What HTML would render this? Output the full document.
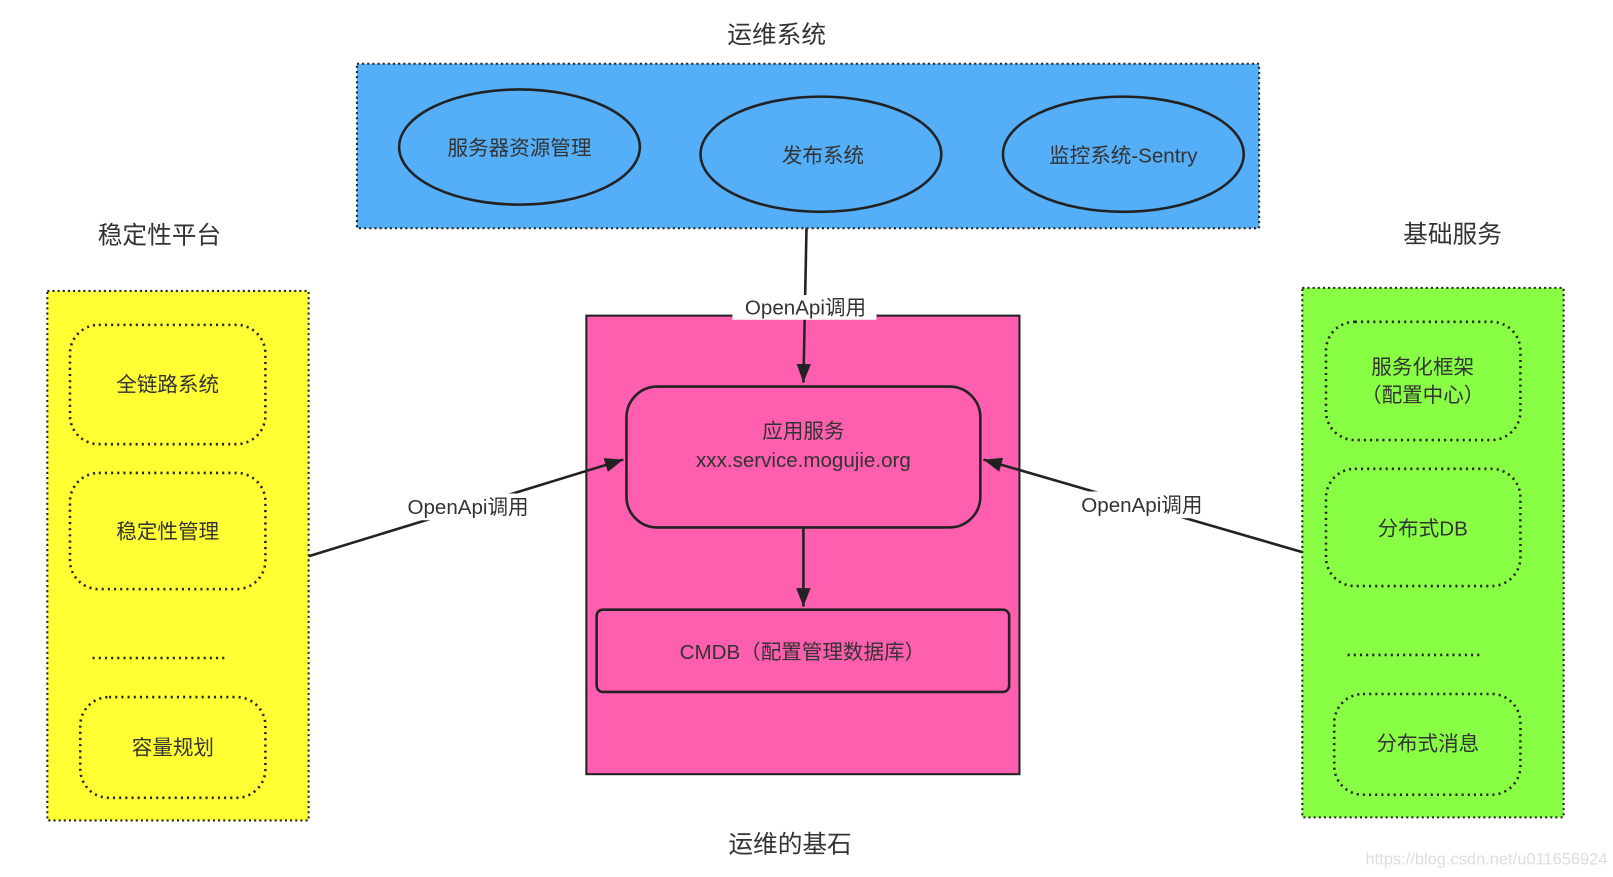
<!DOCTYPE html>
<html><head><meta charset="utf-8"><style>
html,body{margin:0;padding:0;background:#fff;width:1613px;height:877px;overflow:hidden}
svg{display:block}
text{font-family:"Liberation Sans","Noto Sans CJK SC",sans-serif;fill:#333}
</style></head><body>
<svg width="1613" height="877" viewBox="0 0 1568 853" preserveAspectRatio="none">
<defs><marker id="ar" markerWidth="10" markerHeight="10" refX="9" refY="5" orient="auto" markerUnits="userSpaceOnUse"><path d="M0,0 L10,5 L0,10 z" fill="#222"/></marker>
<marker id="ar2" markerWidth="20" markerHeight="20" refX="18" refY="7" orient="auto" markerUnits="userSpaceOnUse"><path d="M0,0 L18,7 L0,14 z" fill="#222"/></marker></defs>
<text x="755" y="42" font-size="24" text-anchor="middle">运维系统</text>
<rect x="347" y="62" width="877" height="160" fill="#55aef8" stroke="#222" stroke-width="2" stroke-dasharray="2,3"/>
<g fill="#55aef8" stroke="#222" stroke-width="2.5">
<ellipse cx="505" cy="143" rx="117" ry="56"/><ellipse cx="798" cy="150" rx="117" ry="56"/><ellipse cx="1092" cy="150" rx="117" ry="56"/></g>
<g font-size="20" text-anchor="middle"><text x="505" y="151">服务器资源管理</text><text x="800" y="158">发布系统</text><text x="1092" y="158">监控系统-Sentry</text></g>
<text x="155" y="237" font-size="24" text-anchor="middle">稳定性平台</text>
<text x="1412" y="236" font-size="24" text-anchor="middle">基础服务</text>
<rect x="46" y="283" width="254" height="515" fill="#ffff33" stroke="#222" stroke-width="2" stroke-dasharray="2,3"/>
<g fill="none" stroke="#222" stroke-width="2.5" stroke-dasharray="2,4">
<rect x="68" y="316" width="190" height="116" rx="28"/><rect x="68" y="460" width="190" height="113" rx="28"/><rect x="78" y="678" width="180" height="98" rx="28"/>
<line x1="90" y1="640" x2="220" y2="640"/></g>
<g font-size="20" text-anchor="middle"><text x="163" y="381">全链路系统</text><text x="163" y="524">稳定性管理</text><text x="168" y="734">容量规划</text></g>
<rect x="1266" y="280" width="254" height="515" fill="#88ff44" stroke="#222" stroke-width="2" stroke-dasharray="2,3"/>
<g fill="none" stroke="#222" stroke-width="2.5" stroke-dasharray="2,4">
<rect x="1289" y="313" width="189" height="115" rx="28"/><rect x="1289" y="456" width="189" height="114" rx="28"/><rect x="1297" y="675" width="181" height="98" rx="28"/>
<line x1="1310" y1="637" x2="1442" y2="637"/></g>
<g font-size="20" text-anchor="middle"><text x="1383" y="364">服务化框架</text><text x="1383" y="391">（配置中心）</text><text x="1383" y="521">分布式DB</text><text x="1388" y="730">分布式消息</text></g>
<rect x="570" y="307" width="421" height="446" fill="#ff5fae" stroke="#222" stroke-width="2"/>
<rect x="609" y="376" width="344" height="137" rx="30" fill="#ff5fae" stroke="#222" stroke-width="2.5"/>
<rect x="580" y="593" width="401" height="80" rx="6" fill="#ff5fae" stroke="#222" stroke-width="2.5"/>
<g font-size="20" text-anchor="middle"><text x="781" y="426">应用服务</text><text x="781" y="454">xxx.service.mogujie.org</text><text x="780" y="641">CMDB（配置管理数据库）</text></g>
<g stroke="#222" stroke-width="2.5" fill="none">
<line x1="784" y1="222" x2="781" y2="372" marker-end="url(#ar2)"/>
<line x1="781" y1="513" x2="781" y2="590" marker-end="url(#ar2)"/>
<line x1="300" y1="541" x2="606" y2="447" marker-end="url(#ar2)"/>
<line x1="1266" y1="537" x2="956" y2="447" marker-end="url(#ar2)"/></g>
<rect x="712" y="287" width="140" height="24" fill="#fff"/>
<rect x="385" y="480" width="140" height="26" fill="#fff"/>
<rect x="1040" y="478" width="140" height="26" fill="#fff"/>
<g font-size="20" text-anchor="middle"><text x="783" y="306">OpenApi调用</text><text x="455" y="500">OpenApi调用</text><text x="1110" y="498">OpenApi调用</text></g>
<text x="768" y="829" font-size="24" text-anchor="middle">运维的基石</text>
<text x="1445" y="841" font-size="16" text-anchor="middle" style="fill:#ddd">https://blog.csdn.net/u011656924</text>
</svg>
</body></html>
